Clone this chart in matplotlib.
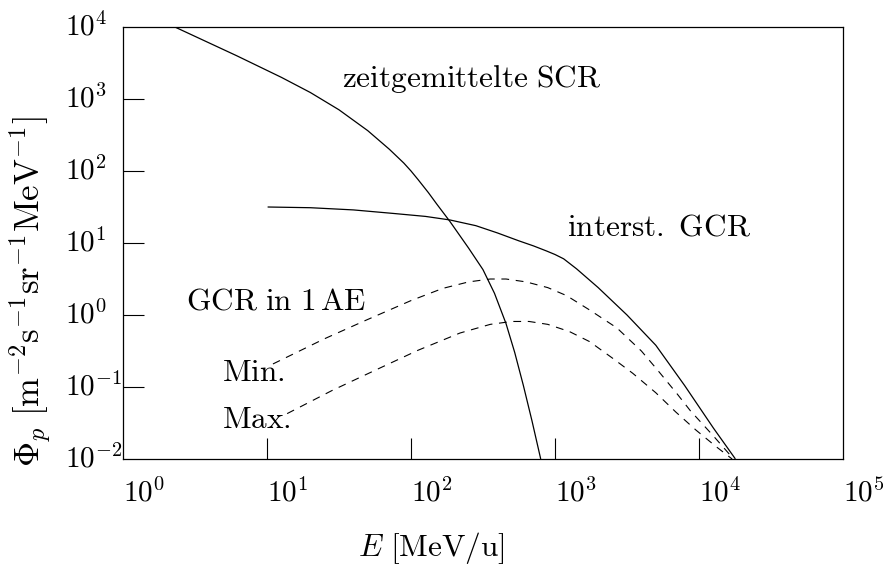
import matplotlib
matplotlib.use("Agg")
import matplotlib.pyplot as plt

plt.rcParams['mathtext.fontset'] = 'cm'
plt.rcParams['font.family'] = 'serif'
plt.rcParams['font.serif'] = ['cmr10', 'DejaVu Serif']
plt.rcParams['axes.formatter.use_mathtext'] = True

# Data (E in MeV/u, flux)
scr_E = [2.29, 6.17, 12.6, 20.0, 31.6, 50.1, 70.8, 89.1, 100, 112, 132, 151, 186,
         251, 316, 380, 457, 525, 603, 692, 794]
scr_phi = [1e4, 3981, 1995, 1230, 708, 363, 200, 129, 100, 75.9, 50.1, 34.7, 20.0,
           8.51, 4.27, 2.0, 0.759, 0.302, 0.105, 0.0339, 0.0102]

gcr_E = [10.2, 20.0, 39.8, 75.9, 126, 186, 282, 398, 562, 708, 871, 1000, 1148,
         1413, 1995, 3162, 5012, 7943, 12590, 17780]
gcr_phi = [31.6, 30.9, 28.8, 25.7, 23.4, 20.9, 17.4, 13.8, 10.7, 9.12, 7.76, 6.92, 6.03,
           4.37, 2.40, 1.0, 0.380, 0.105, 0.0269, 0.0102]

min_E = [11.0, 25.1, 49.0, 100, 166, 251, 355, 457, 631, 891, 1202, 1738, 2692,
         3981, 5129, 7079, 8710, 12590, 17380]
min_phi = [0.209, 0.468, 0.851, 1.585, 2.34, 2.88, 3.16, 3.16, 2.88, 2.40, 1.86, 1.175,
           0.661, 0.316, 0.174, 0.0794, 0.0468, 0.0209, 0.0100]

max_E = [13.8, 28.2, 57.5, 112, 219, 355, 501, 661, 891, 1259, 1738, 2512, 3467,
         5012, 6918, 9550, 13180, 16980]
max_phi = [0.0427, 0.0891, 0.174, 0.324, 0.562, 0.741, 0.813, 0.813, 0.741, 0.589,
           0.427, 0.251, 0.155, 0.0832, 0.0447, 0.0251, 0.0148, 0.0100]

x_ticks = [1, 10, 100, 1000, 10000, 100000]
x_labels = [r'$10^{0}$', r'$10^{1}$', r'$10^{2}$', r'$10^{3}$', r'$10^{4}$', r'$10^{5}$']
y_ticks = [1e-2, 1e-1, 1, 10, 100, 1000, 1e4]
y_labels = [r'$10^{-2}$', r'$10^{-1}$', r'$10^{0}$', r'$10^{1}$', r'$10^{2}$', r'$10^{3}$', r'$10^{4}$']

fig = plt.figure(figsize=(8.83, 5.68), dpi=100)
ax = fig.add_axes([0.1393, 0.1919, 0.8154, 0.7606])

ax.plot(scr_E, scr_phi, color='black', lw=0.9)
ax.plot(gcr_E, gcr_phi, color='black', lw=0.9)
ax.plot(min_E, min_phi, color='black', lw=0.8, linestyle=(0, (7, 6)))
ax.plot(max_E, max_phi, color='black', lw=0.8, linestyle=(0, (7, 6)))

ax.set_xscale('log')
ax.set_yscale('log')
ax.set_xlim(1, 1e5)
ax.set_ylim(1e-2, 1e4)

for s in ax.spines.values():
    s.set_linewidth(0.9)

ax.minorticks_off()
ax.set_xticks(x_ticks[1:-1])
ax.set_yticks(y_ticks[1:-1])
ax.tick_params(which='major', direction='in', length=15, width=0.8,
               labelbottom=False, labelleft=False)

fs = 21
for v, lab in zip(x_ticks, x_labels):
    ax.text(v, -0.045, lab, transform=ax.get_xaxis_transform(),
            ha='left', va='top', fontsize=fs)
for v, lab in zip(y_ticks, y_labels):
    ax.text(-0.081, v, lab, transform=ax.get_yaxis_transform(),
            ha='left', va='center', fontsize=fs)

fl = 22.5
ax.text(0.304, 0.88, r'$\mathrm{zeitgemittelte\ SCR}$', transform=ax.transAxes,
        ha='left', va='center', fontsize=fl)
ax.text(0.617, 0.535, r'$\mathrm{interst.\ GCR}$', transform=ax.transAxes,
        ha='left', va='center', fontsize=fl)
ax.text(0.088, 0.365, r'$\mathrm{GCR\ in\ 1\,AE}$', transform=ax.transAxes,
        ha='left', va='center', fontsize=fl)
ax.text(0.137, 0.2, r'$\mathrm{Min.}$', transform=ax.transAxes,
        ha='left', va='center', fontsize=fl)
ax.text(0.137, 0.09, r'$\mathrm{Max.}$', transform=ax.transAxes,
        ha='left', va='center', fontsize=fl)

fig.text(0.488, 0.035, r'$E\ [\mathrm{MeV/u}]$', ha='center', va='center', fontsize=fl)
fig.text(0.034, 0.487, r'$\Phi_p\ [\mathrm{m}^{-2}\mathrm{s}^{-1}\mathrm{sr}^{-1}\mathrm{MeV}^{-1}]$',
         ha='center', va='center', rotation=90, fontsize=25)

fig.savefig('out.png', dpi=100)
